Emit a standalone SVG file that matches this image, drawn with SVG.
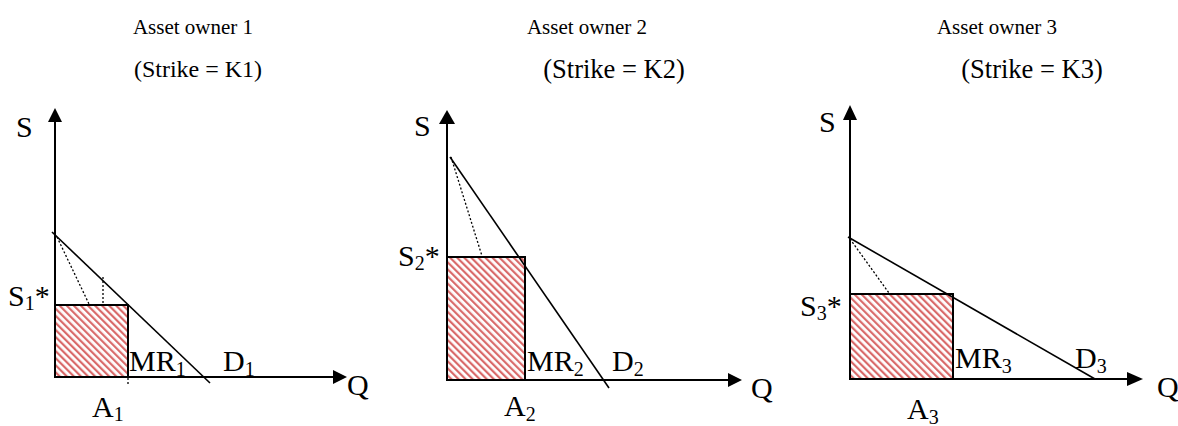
<svg xmlns="http://www.w3.org/2000/svg" width="1178" height="426" viewBox="0 0 1178 426">
<style>
text{font-family:"Liberation Serif","Times New Roman",Times,serif;fill:#000}
.t{font-family:"Liberation Serif","Times New Roman",Times,serif;font-size:21px;text-anchor:middle}
.k{font-family:"Liberation Serif","Times New Roman",Times,serif;text-anchor:middle}
.lab{font-family:"Liberation Serif","Times New Roman",Times,serif;font-size:30px}
.sub{font-size:20px}
.ax{stroke:#000;stroke-width:2;fill:none}
.dem{stroke:#000;stroke-width:1.6;fill:none}
.dot{stroke:#000;stroke-width:1.3;stroke-dasharray:2 2;fill:none}
.box{fill:url(#hatch);stroke:#000;stroke-width:2}
.head{fill:#000}
</style>
<defs>
<pattern id="hatch" width="5" height="5" patternUnits="userSpaceOnUse" patternTransform="rotate(-45)">
<rect width="5" height="5" fill="#fff"/>
<rect x="0" y="0" width="2.2" height="5" fill="#d96a6a"/>
</pattern>
</defs>

<g id="panel1">
<text class="t" x="193" y="34">Asset owner 1</text>
<text class="k" x="198" y="77" font-size="24">(Strike = K1)</text>
<rect class="box" x="55" y="305" width="73" height="72"/>
<text class="lab" x="16" y="137">S</text>
<text class="lab" x="8" y="306">S<tspan class="sub" dy="4">1</tspan><tspan dy="-4">*</tspan></text>
<text class="lab" x="129" y="371">MR<tspan class="sub" dy="5">1</tspan></text>
<text class="lab" x="223" y="371">D<tspan class="sub" dy="5">1</tspan></text>
<text class="lab" x="92" y="417">A<tspan class="sub" dy="4">1</tspan></text>
<text class="lab" x="347" y="395">Q</text>
</g>

<g id="panel2">
<text class="t" x="587" y="34">Asset owner 2</text>
<text class="k" x="614" y="78" font-size="26.5">(Strike = K2)</text>
<rect class="box" x="447" y="257" width="78" height="123"/>
<text class="lab" x="414" y="136">S</text>
<text class="lab" x="398" y="266">S<tspan class="sub" dy="4">2</tspan><tspan dy="-4">*</tspan></text>
<text class="lab" x="527" y="371">MR<tspan class="sub" dy="5">2</tspan></text>
<text class="lab" x="612" y="371">D<tspan class="sub" dy="5">2</tspan></text>
<text class="lab" x="504" y="416">A<tspan class="sub" dy="5">2</tspan></text>
<text class="lab" x="751" y="398">Q</text>
</g>

<g id="panel3">
<text class="t" x="997" y="34">Asset owner 3</text>
<text class="k" x="1032" y="78" font-size="26.5">(Strike = K3)</text>
<rect class="box" x="850" y="294" width="103" height="85"/>
<text class="lab" x="819" y="132">S</text>
<text class="lab" x="800" y="316">S<tspan class="sub" dy="4">3</tspan><tspan dy="-4">*</tspan></text>
<text class="lab" x="955" y="368">MR<tspan class="sub" dy="5">3</tspan></text>
<text class="lab" x="1075" y="368">D<tspan class="sub" dy="5">3</tspan></text>
<text class="lab" x="907" y="419">A<tspan class="sub" dy="5">3</tspan></text>
<text class="lab" x="1157" y="397">Q</text>
</g>

<g id="connectors">
<line class="ax" x1="55" y1="377" x2="55" y2="120"/>
<polygon class="head" points="55,108 48,122 62,122"/>
<line class="ax" x1="55" y1="377" x2="335" y2="377"/>
<polygon class="head" points="347,377 333,370 333,384"/>
<line class="dem" x1="52" y1="232" x2="210" y2="383"/>
<line class="dot" x1="57" y1="237" x2="89" y2="304"/>
<line class="dot" x1="103" y1="277" x2="103" y2="304"/>
<line class="dot" x1="128" y1="378" x2="128" y2="384"/>

<line class="ax" x1="447" y1="380" x2="447" y2="122"/>
<polygon class="head" points="447,110 439,124 455,124"/>
<line class="ax" x1="447" y1="380" x2="730" y2="380"/>
<polygon class="head" points="742,380 728,373 728,387"/>
<line class="dem" x1="450" y1="157" x2="609" y2="388"/>
<line class="dot" x1="451" y1="157" x2="482" y2="256"/>

<line class="ax" x1="850" y1="379" x2="850" y2="118"/>
<polygon class="head" points="850,105 843,120 857,120"/>
<line class="ax" x1="850" y1="379" x2="1130" y2="379"/>
<polygon class="head" points="1143,379 1127,372 1127,386"/>
<line class="dem" x1="848" y1="237" x2="1095" y2="379"/>
<line class="dot" x1="850" y1="239" x2="889" y2="293"/>
</g>
</svg>
